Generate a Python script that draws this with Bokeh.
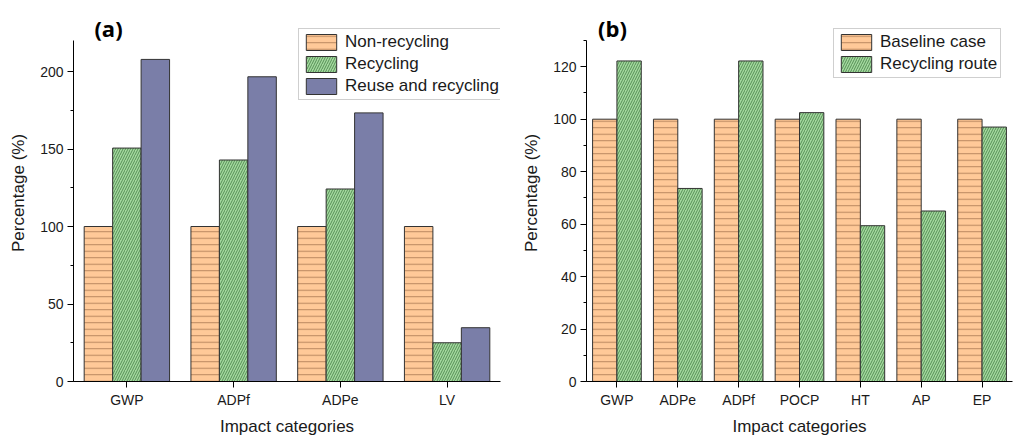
from bokeh.plotting import figure
from bokeh.models import FactorRange, Range1d, Legend, LegendItem, SingleIntervalTicker, Label
from bokeh.transform import dodge
from bokeh.layouts import row
from bokeh.embed import file_html
from bokeh.resources import INLINE

# ---- data (a) ----
cats_a = ["GWP", "ADPf", "ADPe", "LV"]
non_recycling = [100, 100, 100, 100]
recycling = [150.6, 142.9, 124.2, 25]
reuse_recycling = [207.8, 196.6, 173.3, 34.7]

# ---- data (b) ----
cats_b = ["GWP", "ADPe", "ADPf", "POCP", "HT", "AP", "EP"]
baseline = [100, 100, 100, 100, 100, 100, 100]
recycling_route = [122.2, 73.6, 122.2, 102.5, 59.4, 65.0, 97.0]

ORANGE = "#FFC998"
ORANGE_H = "#B9875F"
GREEN = "#A4D99F"
GREEN_H = "#568F56"
PURPLE = "#7A7EA8"
EDGE = "#333333"
FONT = "Liberation Sans"
TXT = "#1a1a1a"

H = 438          # figure height
TOPB = 4         # top border
B = 381          # frame bottom (px from top)
AXIS_TOP_Y = 40  # where the y axis line ends (px from top)


def style(p, axis_top):
    p.outline_line_color = None
    p.xgrid.grid_line_color = None
    p.ygrid.grid_line_color = None
    p.yaxis.bounds = (0, axis_top)
    for ax in (p.xaxis[0], p.yaxis[0]):
        ax.axis_line_color = "#000000"
        ax.major_tick_line_color = "#000000"
        ax.minor_tick_line_color = "#000000"
        ax.major_tick_out = 6
        ax.major_tick_in = 0
        ax.minor_tick_out = 3
        ax.minor_tick_in = 0
        ax.major_label_text_font = FONT
        ax.major_label_text_font_size = "14px"
        ax.major_label_text_color = TXT
        ax.axis_label_text_font = FONT
        ax.axis_label_text_font_size = "17px"
        ax.axis_label_text_font_style = "normal"
        ax.axis_label_text_color = TXT
    p.xaxis.major_label_standoff = 4
    p.yaxis.major_label_standoff = 4
    p.xaxis.axis_label_standoff = 6
    p.yaxis.axis_label_standoff = 9
    p.xaxis.axis_label = "Impact categories"
    p.yaxis.axis_label = "Percentage (%)"


def panel_label(p, text, x, y):
    p.add_layout(Label(x=x, y=y, x_units="screen", y_units="screen", text=text,
                       text_font="Open Sans", text_font_style="bold", text_font_size="22px",
                       text_color="#000000", text_align="center", text_baseline="middle"))


def legend(p, items, loc):
    lg = Legend(items=items, location=loc)
    lg.label_text_font = FONT
    lg.label_text_font_size = "17px"
    lg.label_text_color = TXT
    lg.glyph_width = 38
    lg.glyph_height = 20
    lg.label_standoff = 5
    lg.label_height = 20
    lg.spacing = 2
    lg.padding = 3
    lg.margin = 0
    lg.border_line_color = "#a0a0a0"
    lg.border_line_width = 1
    lg.background_fill_alpha = 1.0
    p.add_layout(lg)


# ---------- figure (a) ----------
ya_top = 220
ya_end = ya_top + (AXIS_TOP_Y - TOPB) * ya_top / (B - AXIS_TOP_Y)
pa = figure(x_range=FactorRange(*cats_a, range_padding=0), y_range=Range1d(0, ya_end),
            width=510, height=H, min_border_left=73, min_border_right=10,
            min_border_top=TOPB, min_border_bottom=0,
            output_backend="svg", toolbar_location=None)
src_a = dict(cat=cats_a, nr=non_recycling, r=recycling, rr=reuse_recycling)
w = 0.8 / 3
b1 = pa.vbar(x=dodge("cat", -w, range=pa.x_range), top="nr", width=w, source=src_a,
             fill_color=ORANGE, line_color=EDGE, line_width=1,
             hatch_pattern="horizontal_line", hatch_color=ORANGE_H, hatch_scale=6.5, hatch_weight=1)
b2 = pa.vbar(x=dodge("cat", 0, range=pa.x_range), top="r", width=w, source=src_a,
             fill_color=GREEN, line_color=EDGE, line_width=1,
             hatch_pattern="right_diagonal_line", hatch_color=GREEN_H, hatch_scale=5, hatch_weight=1)
b3 = pa.vbar(x=dodge("cat", w, range=pa.x_range), top="rr", width=w, source=src_a,
             fill_color=PURPLE, line_color=EDGE, line_width=1)
pa.yaxis.ticker = SingleIntervalTicker(interval=50, num_minor_ticks=2)
style(pa, ya_top)
panel_label(pa, "(a)", 35, B - 27)
legend(pa, [LegendItem(label="Non-recycling", renderers=[b1]),
            LegendItem(label="Recycling", renderers=[b2]),
            LegendItem(label="Reuse and recycling", renderers=[b3])], (225, B - 100))

# ---------- figure (b) ----------
yb_top = 130
yb_end = yb_top + (AXIS_TOP_Y - TOPB) * yb_top / (B - AXIS_TOP_Y)
pb = figure(x_range=FactorRange(*cats_b, range_padding=0), y_range=Range1d(0, yb_end),
            width=505, height=H, min_border_left=76, min_border_right=3,
            min_border_top=TOPB, min_border_bottom=0,
            output_backend="svg", toolbar_location=None)
src_b = dict(cat=cats_b, bl=baseline, rr=recycling_route)
c1 = pb.vbar(x=dodge("cat", -0.2, range=pb.x_range), top="bl", width=0.4, source=src_b,
             fill_color=ORANGE, line_color=EDGE, line_width=1,
             hatch_pattern="horizontal_line", hatch_color=ORANGE_H, hatch_scale=6.5, hatch_weight=1)
c2 = pb.vbar(x=dodge("cat", 0.2, range=pb.x_range), top="rr", width=0.4, source=src_b,
             fill_color=GREEN, line_color=EDGE, line_width=1,
             hatch_pattern="right_diagonal_line", hatch_color=GREEN_H, hatch_scale=5, hatch_weight=1)
pb.yaxis.ticker = SingleIntervalTicker(interval=20, num_minor_ticks=2)
style(pb, yb_top)
panel_label(pb, "(b)", 26, B - 27)
legend(pb, [LegendItem(label="Baseline case", renderers=[c1]),
            LegendItem(label="Recycling route", renderers=[c2])], (247, B - 78))

layout = row(pa, pb)
open("out.html", "w").write(file_html(layout, INLINE))
